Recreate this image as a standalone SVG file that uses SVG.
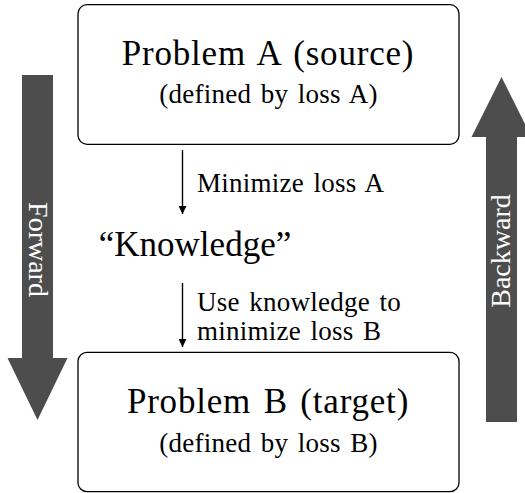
<svg xmlns="http://www.w3.org/2000/svg" width="525" height="493" viewBox="0 0 525 493">
<defs>
<style>
.big{font-size:35px;word-spacing:3px}
.title{letter-spacing:0.8px}
.small{font-size:27px;word-spacing:2.5px;letter-spacing:0.25px}
.box{fill:#fff;stroke:#000;stroke-width:1.3}
.fat{fill:#4d4d4d}
.conn{stroke:#000;stroke-width:1.4;fill:none}
</style>
<marker id="ah" viewBox="0 0 10 10" refX="10" refY="5" markerWidth="11" markerHeight="8" markerUnits="userSpaceOnUse" orient="auto">
<path d="M0,0 L10,5 L0,10 Z" fill="#000"/>
</marker>
</defs>
<g id="forward">
<polygon class="fat" points="22,75 53,75 53,358 67.5,358 37.5,420 7.5,358 22,358"/>
<text font-family="Liberation Serif" font-size="28" fill="#fff" transform="translate(28.5,249.5) rotate(90)" text-anchor="middle">Forward</text>
</g>
<g id="backward">
<polygon class="fat" points="486,422 517,422 517,137 531.5,137 501.5,77 471.5,137 486,137"/>
<text font-family="Liberation Serif" font-size="28" fill="#fff" transform="translate(510,251) rotate(-90)" text-anchor="middle">Backward</text>
</g>
<g id="problemA">
<rect class="box" x="78" y="4.7" width="381" height="139.6" rx="9"/>
<text class="big title" font-family="Liberation Serif" x="268" y="64.5" text-anchor="middle">Problem A (source)</text>
<text class="small" font-family="Liberation Serif" x="268.5" y="103" text-anchor="middle">(defined by loss A)</text>
</g>
<g id="knowledge">
<text class="big" font-family="Liberation Serif" x="195" y="256" text-anchor="middle">“Knowledge”</text>
</g>
<g id="problemB">
<rect class="box" x="78" y="352.3" width="381" height="139.4" rx="9"/>
<text class="big title" font-family="Liberation Serif" x="268" y="413" text-anchor="middle">Problem B (target)</text>
<text class="small" font-family="Liberation Serif" x="268.5" y="452" text-anchor="middle">(defined by loss B)</text>
</g>
<g id="connectors">
<line class="conn" x1="182.5" y1="150" x2="182.5" y2="214" marker-end="url(#ah)"/>
<line class="conn" x1="182.5" y1="283" x2="182.5" y2="347" marker-end="url(#ah)"/>
<text class="small" font-family="Liberation Serif" x="197" y="192">Minimize loss A</text>
<text class="small" font-family="Liberation Serif" x="197" y="311">Use knowledge to</text>
<text class="small" font-family="Liberation Serif" x="197" y="340">minimize loss B</text>
</g>
</svg>
